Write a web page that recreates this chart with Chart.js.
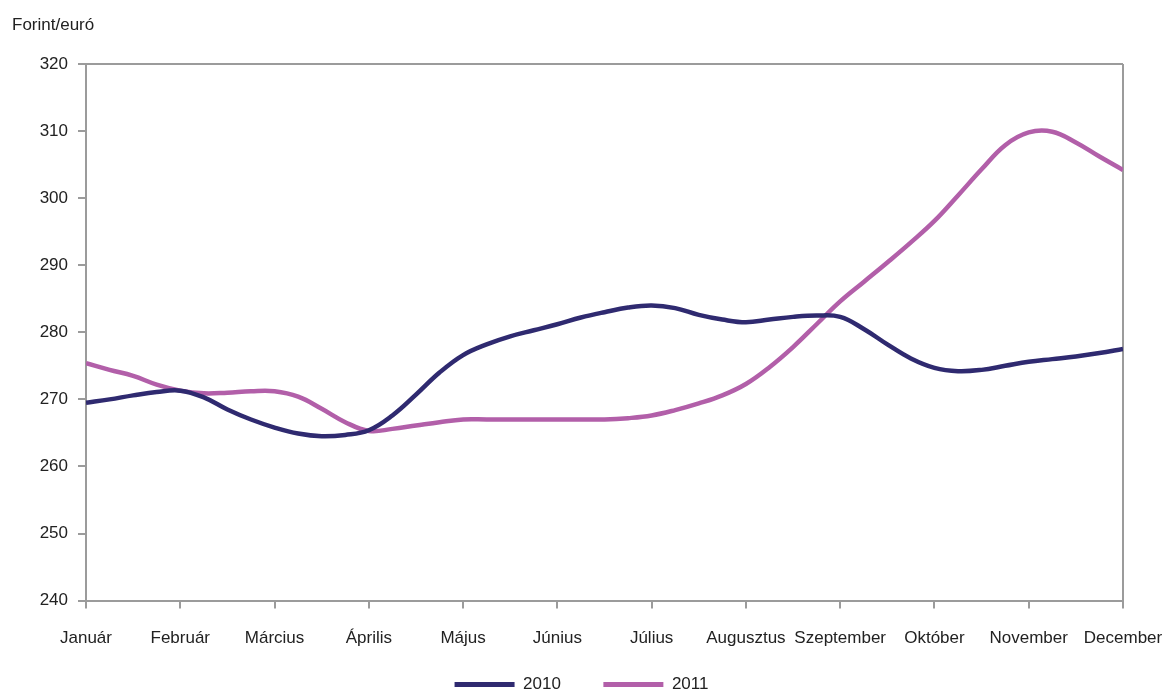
<!DOCTYPE html>
<html>
<head>
<meta charset="utf-8">
<script src="https://cdn.jsdelivr.net/npm/chart.js@4/dist/chart.umd.min.js"></script>
<style>
  html, body { margin: 0; padding: 0; background: #fff; }
  #wrap { width: 1163px; height: 690px; }
</style>
</head>
<body>
<div id="wrap"><canvas id="chart-area"></canvas></div>
<script>
var months = ['Január', 'Február', 'Március', 'Április', 'Május', 'Június',
  'Július', 'Augusztus', 'Szeptember', 'Október', 'November', 'December'];

// x positions in months (0 = Január), quarter-month steps
var pos = [0, 0.25, 0.5, 0.75, 1, 1.25, 1.5, 1.75, 2, 2.25, 2.5, 2.75, 3, 3.25, 3.5, 3.75,
  4, 4.25, 4.5, 4.75, 5, 5.25, 5.5, 5.75, 6, 6.25, 6.5, 6.75, 7, 7.25, 7.5, 7.75,
  8, 8.25, 8.5, 8.75, 9, 9.25, 9.5, 9.75, 10, 10.25, 10.5, 10.75, 11];

var y2010 = [269.5, 270.0, 270.6, 271.1, 271.3, 270.3, 268.5, 267.0, 265.8, 264.9, 264.5, 264.7,
  265.4, 267.6, 270.7, 274.0, 276.6, 278.2, 279.4, 280.3, 281.2, 282.2, 283.0, 283.7,
  284.0, 283.6, 282.6, 281.9, 281.5, 281.9, 282.3, 282.5, 282.3, 280.5, 278.2, 276.1,
  274.7, 274.2, 274.4, 275.0, 275.6, 276.0, 276.4, 276.9, 277.5];

var y2011 = [275.4, 274.4, 273.5, 272.2, 271.3, 270.9, 271.0, 271.2, 271.2, 270.4, 268.6, 266.6,
  265.3, 265.6, 266.1, 266.6, 267.0, 267.0, 267.0, 267.0, 267.0, 267.0, 267.0, 267.2,
  267.6, 268.4, 269.4, 270.6, 272.3, 274.8, 277.8, 281.2, 284.6, 287.5, 290.4, 293.4,
  296.6, 300.4, 304.3, 307.9, 309.8, 309.9, 308.3, 306.2, 304.2];

var seriesNames = ['2010', '2011'];
var yTitle = 'Forint/euró';

function toPoints(vals) {
  return vals.map(function (v, i) { return { x: pos[i], y: v }; });
}

var FONT = "'Liberation Sans', Arial, sans-serif";
var AXIS = '#9b9b9b';

var unitLabel = {
  id: 'unitLabel',
  afterDraw: function (chart) {
    var ctx = chart.ctx;
    ctx.save();
    ctx.fillStyle = '#222';
    ctx.font = '17px ' + FONT;
    ctx.textAlign = 'left';
    ctx.textBaseline = 'middle';
    ctx.fillText(yTitle, 12, 25);
    ctx.restore();
  }
};

var myLine = new Chart(document.getElementById('chart-area'), {
  type: 'line',
  data: {
    datasets: [{
      label: seriesNames[0],
      data: toPoints(y2010),
      borderColor: '#2f2a70',
      backgroundColor: '#2f2a70',
      borderWidth: 4.5,
      pointRadius: 0,
      tension: 0.4
    }, {
      label: seriesNames[1],
      data: toPoints(y2011),
      borderColor: '#b25fa9',
      backgroundColor: '#b25fa9',
      borderWidth: 4.5,
      pointRadius: 0,
      tension: 0.4
    }]
  },
  options: {
    responsive: true,
    maintainAspectRatio: false,
    animation: false,
    layout: { padding: { top: 64, left: 0, right: 0, bottom: -13 } },
    plugins: {
      tooltip: { enabled: false },
      legend: {
        position: 'bottom',
        labels: {
          color: '#222',
          font: { family: FONT, size: 17 },
          boxWidth: 60,
          boxHeight: 5,
          padding: 0,
          generateLabels: function (chart) {
            var items = Chart.defaults.plugins.legend.labels.generateLabels(chart);
            items.forEach(function (it) { it.lineWidth = 0; });
            // widen the gap after the first entry
            items[0].text = items[0].text + '\u2003\u2003\u2002';
            return items;
          }
        }
      }
    },
    scales: {
      x: {
        type: 'linear',
        min: 0,
        max: 11,
        border: { color: AXIS, width: 2 },
        afterFit: function (s) { s.paddingRight = 40; s.paddingLeft = 0; s.height += 7; },
        grid: {
          color: function (c) { return c.tick && c.tick.value === 11 ? AXIS : 'rgba(0,0,0,0)'; },
          tickColor: AXIS,
          tickLength: 8,
          lineWidth: 2
        },
        ticks: {
          stepSize: 1,
          autoSkip: false,
          maxRotation: 0,
          padding: 20,
          color: '#222',
          font: { family: FONT, size: 17 },
          callback: function (v) { return months[v]; }
        }
      },
      y: {
        min: 240,
        max: 320,
        border: { color: AXIS, width: 2 },
        afterFit: function (s) { s.width = 86; },
        grid: {
          color: function (c) { return c.tick && c.tick.value === 320 ? AXIS : 'rgba(0,0,0,0)'; },
          tickColor: AXIS,
          tickLength: 8,
          lineWidth: 2
        },
        ticks: {
          stepSize: 10,
          padding: 10,
          color: '#222',
          font: { family: FONT, size: 17 }
        }
      }
    }
  },
  plugins: [unitLabel]
});
</script>
</body>
</html>
